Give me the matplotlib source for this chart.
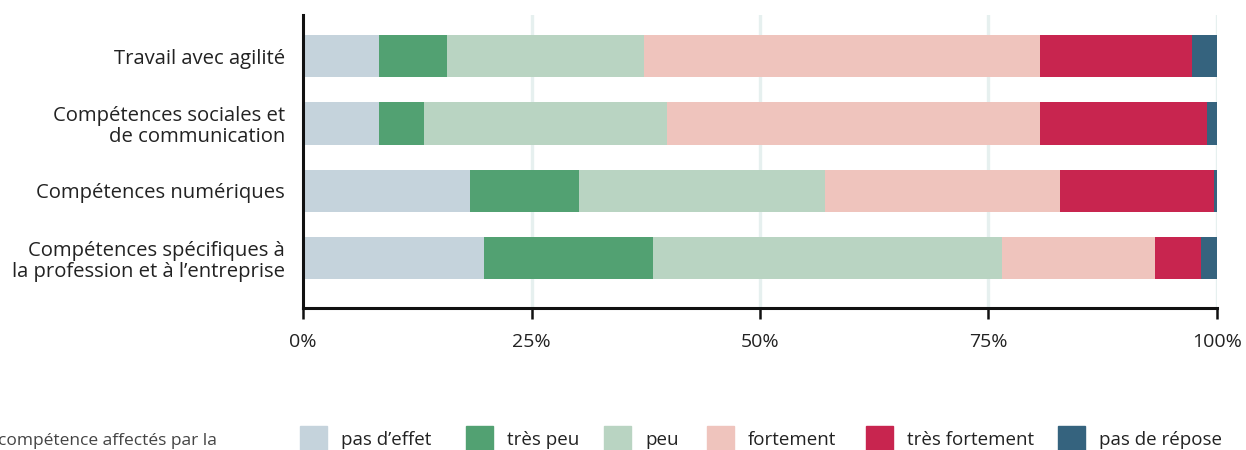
import matplotlib
matplotlib.use("Agg")
import matplotlib.pyplot as plt
from matplotlib.patches import Rectangle

plt.rcParams["font.family"] = ["Open Sans", "DejaVu Sans"]

categories = [
    "Travail avec agilité",
    "Compétences sociales et\nde communication",
    "Compétences numériques",
    "Compétences spécifiques à\nla profession et à l’entreprise",
]
series_labels = ["pas d’effet", "très peu", "peu", "fortement", "très fortement", "pas de répose"]
colors = ["#c5d3dc", "#52a172", "#b9d4c2", "#efc4bd", "#c8254f", "#35637e"]

pas_effet = [8.3, 8.3, 18.3, 19.8]
tres_peu = [7.5, 4.9, 11.9, 18.5]
peu = [21.5, 26.6, 26.9, 38.2]
fortement = [43.3, 40.8, 25.7, 16.7]
tres_fortement = [16.7, 18.3, 16.9, 5.0]
pas_reponse = [2.7, 1.1, 0.3, 1.8]
series = [pas_effet, tres_peu, peu, fortement, tres_fortement, pas_reponse]

xticks = [0, 25, 50, 75, 100]
xtick_labels = ["0%", "25%", "50%", "75%", "100%"]

fig = plt.figure(figsize=(12.46, 4.5), dpi=100)
ax = fig.add_axes([0.2432, 0.3156, 0.7335, 0.6511])

ypos = list(range(len(categories)))
left = [0.0] * len(categories)
for vals, col, lab in zip(series, colors, series_labels):
    ax.barh(ypos, vals, left=left, height=0.63, color=col, label=lab, zorder=2)
    left = [l + v for l, v in zip(left, vals)]

for x in xticks[1:]:
    ax.axvline(x, color="#e6f0ef", lw=2.4, zorder=1)

ax.set_xlim(0, 100)
ax.set_ylim(3.74, -0.61)
ax.set_yticks(ypos)
ax.set_yticklabels(categories, fontsize=14.6, color="#222222", linespacing=1.1)
ax.set_xticks(xticks)
ax.set_xticklabels(xtick_labels, fontsize=14, color="#222222")
ax.tick_params(axis="y", length=0, pad=13)
ax.tick_params(axis="x", length=8, width=1.8, pad=10, color="#111111")
for s in ["top", "right"]:
    ax.spines[s].set_visible(False)
for s in ["left", "bottom"]:
    ax.spines[s].set_linewidth(2.2)
    ax.spines[s].set_color("#111111")

# legend along the bottom edge
W, H = 1246, 450
leg_x = [300, 466, 604, 707, 866, 1058]
for x0, col, lab in zip(leg_x, colors, series_labels):
    fig.patches.append(Rectangle((x0 / W, -0.02), 27 / W, (450 - 426) / H + 0.02,
                                 transform=fig.transFigure, color=col))
    fig.text((x0 + 41) / W, 1 - 440 / H, lab, fontsize=13.5, color="#222222",
             va="center", ha="left")

fig.text(-0.002, 1 - 441 / H, "compétence affectés par la", fontsize=12.5,
         color="#444444", va="center", ha="left")

fig.savefig("out.png", dpi=100)
